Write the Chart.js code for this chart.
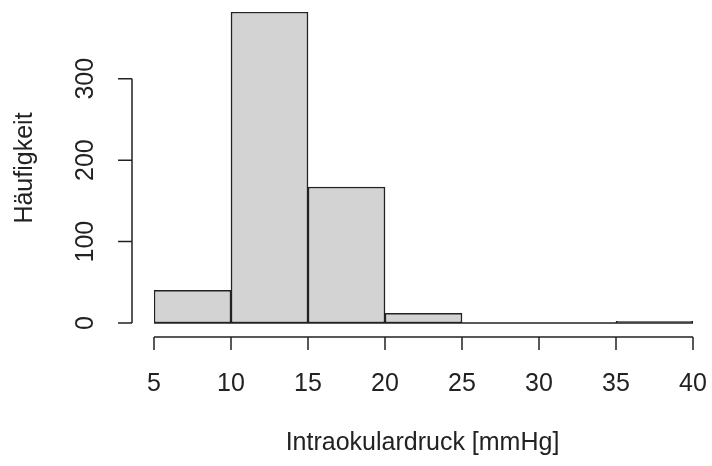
<!DOCTYPE html>
<html><head><meta charset="utf-8">
<script src="https://cdn.jsdelivr.net/npm/chart.js@4/dist/chart.umd.min.js"></script>
<style>html,body{margin:0;padding:0;background:#fff}#wrap{width:712px;height:466px}</style>
</head><body><div id="wrap"><canvas id="c" width="712" height="466"></canvas></div>
<script>
const binStarts = [5, 10, 15, 20, 25, 30, 35];
const binWidth = 5;
const counts = [40, 382, 167, 12, 0, 0, 2];
const xTicks = [5, 10, 15, 20, 25, 30, 35, 40];
const yTicks = [0, 100, 200, 300];
const xTitle = 'Intraokulardruck [mmHg]';
const yTitle = 'Häufigkeit';

const FONT = '25px "Liberation Sans", Arial, sans-serif';
const INK = '#222';

const rAxes = {
  id: 'rAxes',
  afterDraw(chart) {
    const ctx = chart.ctx, xs = chart.scales.x, ys = chart.scales.y;
    ctx.save();
    ctx.strokeStyle = INK; ctx.lineWidth = 1.5; ctx.fillStyle = INK; ctx.font = FONT;
    // baseline (bottoms of all rects)
    const y0 = ys.getPixelForValue(0);
    ctx.beginPath();
    ctx.moveTo(xs.getPixelForValue(xTicks[0]), y0);
    ctx.lineTo(xs.getPixelForValue(xTicks[xTicks.length-1]), y0);
    ctx.stroke();
    // x axis
    const ax = y0 + 14;
    ctx.beginPath();
    ctx.moveTo(xs.getPixelForValue(xTicks[0]), ax);
    ctx.lineTo(xs.getPixelForValue(xTicks[xTicks.length-1]), ax);
    xTicks.forEach(v => { const p = xs.getPixelForValue(v); ctx.moveTo(p, ax); ctx.lineTo(p, ax + 13); });
    ctx.stroke();
    ctx.textAlign = 'center'; ctx.textBaseline = 'middle';
    xTicks.forEach(v => ctx.fillText(String(v), xs.getPixelForValue(v), ax + 47));
    ctx.fillText(xTitle, (xs.left + xs.right) / 2 - 1, ax + 106);
    // y axis
    const lx = xs.left - 22;
    ctx.beginPath();
    ctx.moveTo(lx, ys.getPixelForValue(yTicks[0]));
    ctx.lineTo(lx, ys.getPixelForValue(yTicks[yTicks.length-1]));
    yTicks.forEach(v => { const p = ys.getPixelForValue(v); ctx.moveTo(lx, p); ctx.lineTo(lx - 14, p); });
    ctx.stroke();
    yTicks.forEach(v => {
      ctx.save(); ctx.translate(lx - 46, ys.getPixelForValue(v)); ctx.rotate(-Math.PI/2);
      ctx.fillText(String(v), 0, 0); ctx.restore();
    });
    ctx.save(); ctx.translate(25, 168); ctx.rotate(-Math.PI/2);
    ctx.fillText(yTitle, 0, 0); ctx.restore();
    ctx.restore();
  }
};

new Chart(document.getElementById('c'), {
  type: 'bar',
  data: {
    datasets: [{
      data: binStarts.map((s, i) => ({ x: s + binWidth / 2, y: counts[i] })),
      backgroundColor: '#d3d3d3',
      borderColor: INK,
      borderWidth: 1.5,
      borderSkipped: false,
      barPercentage: 1,
      categoryPercentage: 1
    }]
  },
  options: {
    responsive: false,
    animation: false,
    layout: { padding: { left: 154, right: 19, top: 12, bottom: 143 } },
    plugins: { legend: { display: false }, tooltip: { enabled: false } },
    scales: {
      x: { type: 'linear', display: false, min: xTicks[0], max: xTicks[xTicks.length-1], offset: false },
      y: { display: false, min: 0, max: counts[1] }
    }
  },
  plugins: [rAxes]
});
</script></body></html>
